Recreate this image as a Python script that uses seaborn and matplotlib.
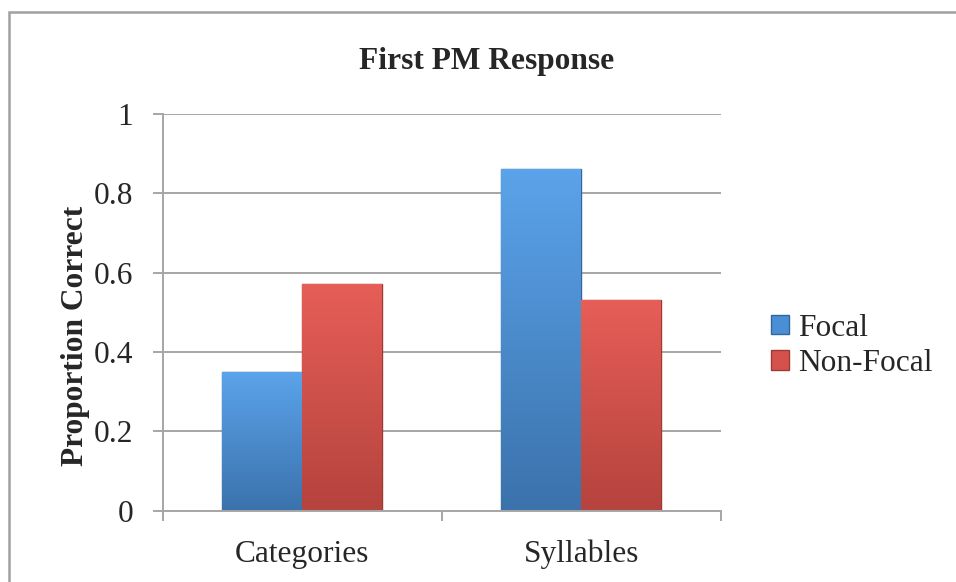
import numpy as np
import pandas as pd
import matplotlib
matplotlib.use("Agg")
import matplotlib.pyplot as plt
from matplotlib.patches import Patch, Rectangle
import seaborn as sns

# ---- data ----
categories = ["Categories", "Syllables"]
conditions = ["Focal", "Non-Focal"]
focal_values = [0.35, 0.86]
nonfocal_values = [0.57, 0.53]
y_ticks = [0, 0.2, 0.4, 0.6, 0.8, 1.0]
y_tick_labels = ["0", "0.2", "0.4", "0.6", "0.8", "1"]
title = "First PM Response"
y_label = "Proportion Correct"

df = pd.DataFrame({
    "Task": categories + categories,
    "Condition": [conditions[0]] * len(categories) + [conditions[1]] * len(categories),
    "Proportion": focal_values + nonfocal_values,
})

sns.set_theme(style="white")
plt.rcParams['font.family'] = ['Liberation Serif', 'DejaVu Serif']

W, H = 956, 582
FS = 22.6
fig = plt.figure(figsize=(W / 100, H / 100), dpi=100)
fig.patch.set_facecolor("white")

ax_l, ax_r, ax_t, ax_b = 162.7, 720.7, 113.7, 510.7
ax = fig.add_axes([ax_l / W, 1 - ax_b / H, (ax_r - ax_l) / W, (ax_b - ax_t) / H])

base_colors = {"Focal": "#4A8ED6", "Non-Focal": "#D5524C"}
top_colors = {"Focal": "#5BA3EA", "Non-Focal": "#E65E57"}
bot_colors = {"Focal": "#3B72AC", "Non-Focal": "#B5433E"}
edge_colors = {"Focal": "#33679C", "Non-Focal": "#9E3A36"}

sns.barplot(data=df, x="Task", y="Proportion", hue="Condition",
            order=categories, hue_order=conditions,
            palette=base_colors, width=0.573, saturation=1,
            legend=False, ax=ax, zorder=2)

# gradient shading and edges
for cond, cont in zip(conditions, ax.containers):
    c_top = np.array(matplotlib.colors.to_rgb(top_colors[cond]))
    c_bot = np.array(matplotlib.colors.to_rgb(bot_colors[cond]))
    for bar in cont:
        bar.set_edgecolor(edge_colors[cond])
        bar.set_linewidth(1.0)
        x0, y0 = bar.get_x(), bar.get_y()
        w, h = bar.get_width(), bar.get_height()
        t = np.linspace(0, 1, 128)[:, None]
        grad = (c_top[None, None, :] * (1 - t[:, :, None]) + c_bot[None, None, :] * t[:, :, None])
        grad = np.repeat(grad, 2, axis=1)
        im = ax.imshow(grad, extent=[x0, x0 + w, y0, y0 + h], origin="upper",
                       aspect="auto", zorder=2.5, interpolation="bilinear")
        im.set_clip_path(bar)

ax.set_xlim(-0.5, 1.5)
ax.set_ylim(0, 1)
ax.set_xlabel("")
ax.set_ylabel("")

grid_c = "#A6A6A6"
ax.set_yticks(y_ticks)
ax.set_yticklabels(y_tick_labels, fontsize=FS)
ax.yaxis.grid(True, color=grid_c, linewidth=1.4, zorder=0)
ax.set_axisbelow(True)
for s in ["top", "right"]:
    ax.spines[s].set_visible(False)
for s in ["left", "bottom"]:
    ax.spines[s].set_color(grid_c)
    ax.spines[s].set_linewidth(1.4)

ax.tick_params(axis="y", which="major", direction="out", length=7.2, width=1.4,
               color=grid_c, pad=14, labelsize=FS, left=True)
ax.tick_params(axis="x", which="major", length=0, pad=21, labelsize=FS, bottom=True)
ax.set_xticks([-0.5, 0.5, 1.5], minor=True)
ax.tick_params(axis="x", which="minor", direction="out", length=7.2, width=1.4,
               color=grid_c, bottom=True)

# title and y label
fig.text(487 / W, 1 - 69.3 / H, title, ha="center", va="baseline",
         fontsize=FS, fontweight="bold")
fig.text(76 / W, 1 - 336 / H, y_label, rotation=90, ha="center", va="center",
         fontsize=FS, fontweight="bold")

# legend
handles = [Patch(facecolor=base_colors[c], edgecolor=edge_colors[c], linewidth=1.0) for c in conditions]
fig.legend(handles, conditions, loc="center left",
           bbox_to_anchor=(771 / W, 1 - 346 / H), frameon=False,
           borderpad=0, borderaxespad=0, handlelength=0.56, handleheight=0.56,
           handletextpad=0.3, labelspacing=0.2, fontsize=FS)

# outer chart border
fig.patches.append(Rectangle((9 / W, -0.1), 1.2, 1 - 12 / H + 0.1,
                             transform=fig.transFigure, fill=False,
                             edgecolor="#A0A0A0", linewidth=1.8))

fig.savefig("out.png", dpi=100)
